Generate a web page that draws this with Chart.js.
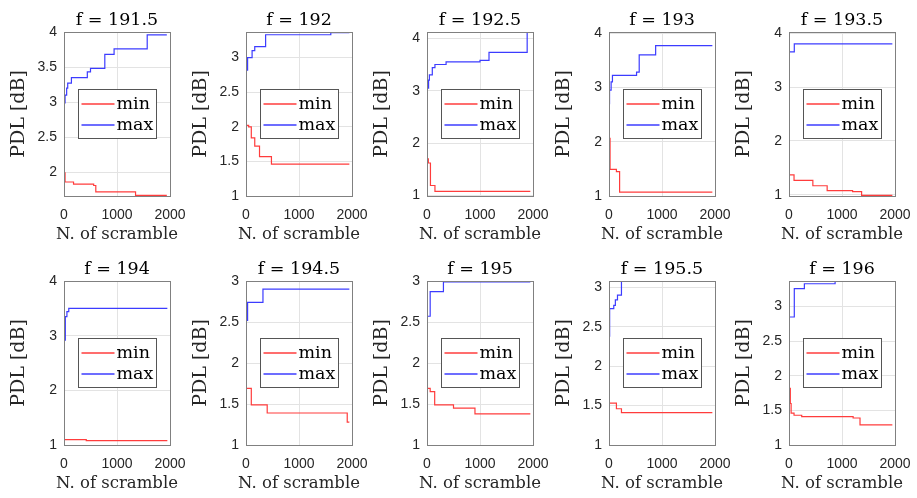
<!DOCTYPE html>
<html>
<head>
<meta charset="utf-8">
<script src="https://cdn.jsdelivr.net/npm/chart.js@4"></script>
<style>
  html, body { margin: 0; padding: 0; background: #fff; }
  body { width: 917px; height: 498px; position: relative; overflow: hidden; }
  canvas { position: absolute; }
</style>
</head>
<body>
<script>
// PDL min/max vs number of scrambles, one panel per frequency

const titles = ['f = 191.5', 'f = 192', 'f = 192.5', 'f = 193', 'f = 193.5',
                'f = 194', 'f = 194.5', 'f = 195', 'f = 195.5', 'f = 196'];
const seriesLabels = ['min', 'max'];
const xTicks = [0, 1000, 2000];

// step points [scramble count, PDL dB]
const minSeries = [
  [[0,1.99],[20,1.86],[180,1.83],[560,1.81],[600,1.72],[1350,1.67],[1940,1.67]],
  [[0,2.02],[50,2.0],[100,1.84],[165,1.72],[255,1.57],[480,1.46],[1950,1.46]],
  [[0,1.7],[25,1.62],[65,1.19],[150,1.08],[1950,1.08]],
  [[0,2.06],[20,1.49],[140,1.45],[200,1.07],[1950,1.07]],
  [[0,1.37],[95,1.27],[450,1.17],[720,1.08],[1200,1.06],[1370,0.99],[1950,0.99]],
  [[0,1.1],[420,1.08],[1950,1.08]],
  [[0,1.69],[100,1.49],[400,1.39],[1910,1.28],[1950,1.28]],
  [[0,1.69],[60,1.65],[145,1.49],[500,1.45],[905,1.38],[1950,1.38]],
  [[0,1.53],[140,1.46],[235,1.41],[1950,1.41]],
  [[0,1.82],[25,1.6],[40,1.46],[95,1.43],[240,1.41],[1210,1.39],[1340,1.29],[1950,1.29]]
];
const maxSeries = [
  [[0,2.99],[20,3.1],[50,3.2],[70,3.27],[140,3.35],[440,3.43],[500,3.48],[770,3.68],[945,3.76],[1570,3.96],[1940,3.96]],
  [[0,2.82],[30,3.0],[115,3.1],[165,3.16],[370,3.33],[1600,3.36],[1950,3.36]],
  [[0,3.05],[30,3.2],[45,3.3],[100,3.44],[150,3.5],[360,3.55],[1000,3.58],[1170,3.73],[1890,4.13],[1950,4.13]],
  [[0,2.7],[10,2.95],[40,3.1],[65,3.22],[520,3.28],[570,3.6],[880,3.77],[1950,3.77]],
  [[0,3.65],[100,3.8],[1950,3.8]],
  [[0,2.92],[25,3.35],[55,3.44],[90,3.5],[1950,3.5]],
  [[0,2.52],[30,2.74],[320,2.9],[1950,2.9]],
  [[0,2.57],[60,2.87],[310,2.99],[1950,2.99]],
  [[0,2.38],[12,2.73],[90,2.77],[120,2.84],[160,2.9],[235,3.08],[1950,3.08]],
  [[0,2.85],[100,3.26],[290,3.33],[870,3.37],[1950,3.37]]
];
const yLimits = [
  [1.66, 4.0], [1, 3.37], [0.99, 4.12], [1, 4.02], [0.98, 4.02],
  [1, 4], [1, 3], [1, 3], [1, 3.08], [1, 3.37]
];
const yTicks = [
  [2, 2.5, 3, 3.5, 4], [1, 1.5, 2, 2.5, 3], [1, 2, 3, 4], [1, 2, 3, 4], [1, 2, 3, 4],
  [1, 2, 3, 4], [1, 1.5, 2, 2.5, 3], [1, 1.5, 2, 2.5, 3], [1, 1.5, 2, 2.5, 3], [1, 1.5, 2, 2.5, 3]
];
const xLabel = 'N. of scramble';
const yLabel = 'PDL [dB]';

const RED = '#ff3c3c';
const BLUE = '#3c3cff';
const SERIF = '"DejaVu Serif", serif';
const SANS = '"Liberation Sans", Arial, sans-serif';
const GRID = '#e3e3e3';

// layout of the plot boxes
const colLeft = [64, 246, 427, 609, 789];
const rowTop = [0, 249];
const AXIS_W = 64, PLOT_W = 106, RIGHT_PAD = 36;

const boxPlugin = {
  id: 'axesBox',
  afterDatasetsDraw(chart) {
    const { ctx, chartArea: a } = chart;
    ctx.save();
    ctx.strokeStyle = '#808080';
    ctx.lineWidth = 1;
    ctx.strokeRect(Math.round(a.left) + 0.5, Math.round(a.top) + 0.5,
                   Math.round(a.right - a.left), Math.round(a.bottom - a.top));
    ctx.restore();
  }
};

// x axis label drawn free of the scale's maxWidth squeeze
const xLabelPlugin = {
  id: 'xLabel',
  afterDraw(chart, args, opts) {
    const { ctx, chartArea: a } = chart;
    ctx.save();
    ctx.font = '16.5px ' + SERIF;
    ctx.fillStyle = '#262626';
    ctx.textAlign = 'center';
    ctx.textBaseline = 'alphabetic';
    ctx.fillText(opts.text, (a.left + a.right) / 2, 239);
    ctx.restore();
  }
};

const legendBox = {
  id: 'legendBox',
  afterDraw(chart) {
    const { ctx, chartArea: a } = chart;
    const w = 78, h = 49;
    const x0 = Math.round((a.left + a.right) / 2 - w / 2) + 0.5;
    const y0 = Math.round((a.top + a.bottom) / 2 - h / 2) - 0.5;
    ctx.save();
    ctx.fillStyle = '#fff';
    ctx.fillRect(x0, y0, w, h);
    ctx.strokeStyle = '#555';
    ctx.lineWidth = 1;
    ctx.strokeRect(x0, y0, w, h);
    ctx.font = '17.5px ' + SERIF;
    ctx.textBaseline = 'middle';
    chart.data.datasets.forEach((ds, k) => {
      const y = y0 + 14.5 + k * 21;
      ctx.strokeStyle = ds.borderColor;
      ctx.lineWidth = 1.3;
      ctx.beginPath();
      ctx.moveTo(x0 + 3, y);
      ctx.lineTo(x0 + 36, y);
      ctx.stroke();
      ctx.fillStyle = '#000';
      ctx.fillText(ds.label, x0 + 38, y);
    });
    ctx.restore();
  }
};

titles.forEach((title, i) => {
  const col = i % 5, row = Math.floor(i / 5);
  const canvas = document.createElement('canvas');
  canvas.width = AXIS_W + PLOT_W + RIGHT_PAD;
  canvas.height = 249;
  canvas.style.left = (colLeft[col] - AXIS_W) + 'px';
  canvas.style.top = rowTop[row] + 'px';
  document.body.appendChild(canvas);

  const toPts = arr => arr.map(([x, y]) => ({ x, y }));

  new Chart(canvas, {
    type: 'line',
    data: {
      datasets: [
        { label: seriesLabels[0], data: toPts(minSeries[i]), borderColor: RED,
          borderWidth: 1.2, pointRadius: 0, stepped: 'before', fill: false },
        { label: seriesLabels[1], data: toPts(maxSeries[i]), borderColor: BLUE,
          borderWidth: 1.2, pointRadius: 0, stepped: 'before', fill: false }
      ]
    },
    options: {
      responsive: false,
      animation: false,
      layout: { padding: { left: 0, right: RIGHT_PAD, top: 0, bottom: 0 } },
      plugins: {
        legend: { display: false },
        tooltip: { enabled: false },
        xLabel: { text: xLabel },
        title: {
          display: true, text: title, color: '#000', fullSize: false,
          font: { family: SERIF, size: 17.5, weight: 'normal', lineHeight: 1.2 },
          padding: { top: 10, bottom: 1 }
        }
      },
      scales: {
        x: {
          type: 'linear', min: 0, max: 2000,
          afterBuildTicks: s => { s.ticks = xTicks.map(v => ({ value: v })); },
          afterFit: s => { s.height = 53; },
          ticks: { callback: v => String(v), color: '#262626', padding: 11,
                   maxRotation: 0, autoSkip: false, font: { family: SANS, size: 14 } },
          grid: { color: GRID, drawTicks: false },
          border: { display: false }
        },
        y: {
          type: 'linear', min: yLimits[i][0], max: yLimits[i][1],
          afterBuildTicks: s => { s.ticks = yTicks[i].map(v => ({ value: v })); },
          afterFit: s => { s.width = AXIS_W; },
          ticks: { callback: v => String(v), color: '#262626', padding: 7,
                   autoSkip: false, font: { family: SANS, size: 14 } },
          grid: { color: GRID, drawTicks: false },
          border: { display: false },
          title: { display: true, text: yLabel, color: '#262626',
                   font: { family: SERIF, size: 19, lineHeight: 1.2 },
                   padding: { top: 8, bottom: 0 } }
        }
      }
    },
    plugins: [boxPlugin, legendBox, xLabelPlugin]
  });
});
</script>
</body>
</html>
